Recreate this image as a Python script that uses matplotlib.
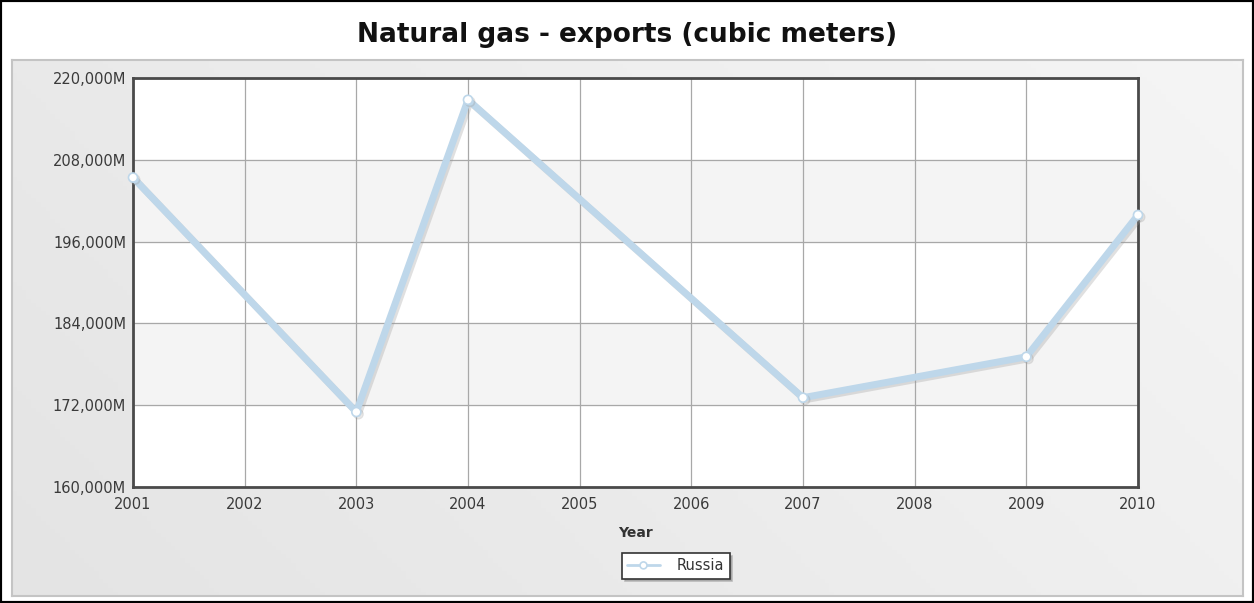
import matplotlib
matplotlib.use("Agg")
import matplotlib.pyplot as plt
import matplotlib.patheffects as pe
from matplotlib.patches import Rectangle
from matplotlib.colors import LinearSegmentedColormap
import numpy as np

years = [2001, 2003, 2004, 2007, 2009, 2010]
exports_m = [205400, 171000, 216800, 173100, 179100, 199900]
year_ticks = list(range(2001, 2011))
y_ticks = [160000, 172000, 184000, 196000, 208000, 220000]
series_name = "Russia"
title = "Natural gas - exports (cubic meters)"

W, H = 1254, 603
fig = plt.figure(figsize=(W / 100, H / 100), dpi=100)
fig.patch.set_facecolor("white")

def fx(px):
    return px / W

def fy(py):
    return 1 - py / H

# outer black border
fig.patches.append(Rectangle((0, 0), 1, 1, transform=fig.transFigure, fill=False,
                             edgecolor="black", linewidth=3, zorder=0))

# gray gradient panel
bg = fig.add_axes([fx(12), fy(596), fx(1243 - 12), (596 - 60) / H], zorder=-5)
gx = np.linspace(0, 1, 256)
gy = np.linspace(0, 1, 128)
grad = (gx[None, :] * 0.7 + gy[:, None] * 0.3)
cmap = LinearSegmentedColormap.from_list("g", ["#e4e4e4", "#f5f5f5"])
bg.imshow(grad, aspect="auto", cmap=cmap, extent=[0, 1, 0, 1], origin="lower")
bg.set_xticks([]); bg.set_yticks([])
for s in bg.spines.values():
    s.set_edgecolor("#c4c4c4"); s.set_linewidth(1.5)

fig.text(0.5, fy(35), title, ha="center", va="center", fontsize=19,
         fontweight="bold", family="DejaVu Sans", color="#111111")

left, right, top, bottom = 133, 1138, 78, 487
ax = fig.add_axes([fx(left), fy(bottom), fx(right - left), (bottom - top) / H])
ax.set_facecolor("white")
ax.set_xlim(2001, 2010)
ax.set_ylim(160000, 220000)

for i in range(len(y_ticks) - 1):
    if i % 2 == 1:
        ax.axhspan(y_ticks[i], y_ticks[i + 1], color="#f4f4f4", zorder=0)

ax.set_xticks(year_ticks)
ax.set_yticks(y_ticks)
ax.set_xticklabels([str(y) for y in year_ticks])
ax.set_yticklabels([f"{v:,}M" for v in y_ticks])
ax.grid(True, color="#a8a8a8", linewidth=0.9, zorder=1)
ax.set_axisbelow(True)
ax.tick_params(length=0, labelsize=10.5, labelcolor="#3a3a3a", pad=5)
ax.tick_params(axis="x", pad=7)
for lab in ax.get_xticklabels() + ax.get_yticklabels():
    lab.set_family("DejaVu Sans")
for s in ax.spines.values():
    s.set_edgecolor("#4a4a4a"); s.set_linewidth(2)

line, = ax.plot(years, exports_m, color="#bed7ea", linewidth=5, zorder=3,
                marker="o", markersize=6.5, markerfacecolor="white",
                markeredgecolor="#bed7ea", markeredgewidth=1.2, clip_on=False,
                solid_capstyle="round", solid_joinstyle="round",
                path_effects=[pe.SimpleLineShadow(offset=(1.5, -1.5), shadow_color="#999999", alpha=0.3),
                              pe.Normal()])

fig.text((left + right) / 2 / W, fy(533), "Year", ha="center", va="center",
         fontsize=10, fontweight="bold", color="#333333", family="DejaVu Sans")

leg = ax.legend([line], [series_name], loc="center", bbox_to_anchor=(fx(676), fy(566)),
                bbox_transform=fig.transFigure, frameon=True, fancybox=False,
                shadow={"color": "#9a9a9a", "alpha": 0.6}, edgecolor="#333333",
                fontsize=10.5, handlelength=2.2, borderpad=0.35, handletextpad=1.2,
                borderaxespad=0)
leg.get_frame().set_linewidth(1.2)
for t in leg.get_texts():
    t.set_color("#333333")
leg.legend_handles[0].set_path_effects([pe.Normal()])
leg.legend_handles[0].set_linewidth(2)
leg.legend_handles[0].set_markersize(5)

fig.savefig("out.png", dpi=100)
